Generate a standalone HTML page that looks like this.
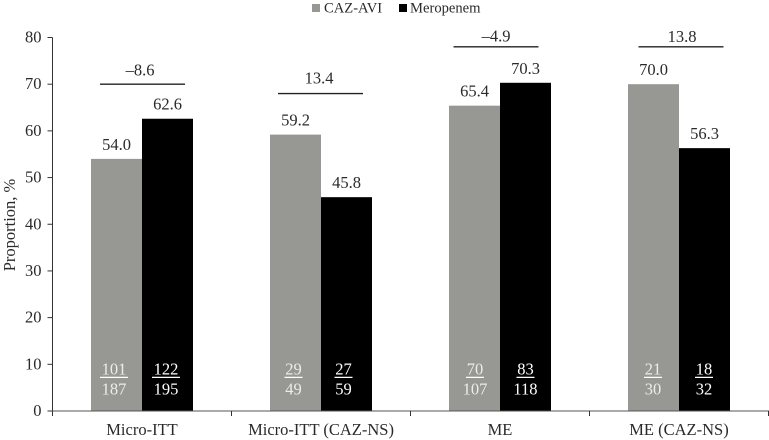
<!DOCTYPE html>
<html lang="en">
<head>
<meta charset="utf-8">
<title>Proportion by analysis population</title>
<style>
html,body{margin:0;padding:0;background:#fff;}
svg{display:block;}
text{font-family:"Liberation Serif",serif;font-size:16.5px;fill:#2a2a2a;}
text.legend-text{font-size:14.6px;}
</style>
</head>
<body>
<svg id="chart" width="769" height="440" viewBox="0 0 769 440" xmlns="http://www.w3.org/2000/svg">
  <g id="legend">
    <rect x="312" y="4" width="8" height="8" fill="#979893"></rect>
    <text class="legend-text" x="324" y="12.5">CAZ-AVI</text>
    <rect x="399" y="4" width="8" height="8" fill="#000"></rect>
    <text class="legend-text" x="410" y="12.5">Meropenem</text>
  </g>
  <text transform="translate(15,225) rotate(-90)" text-anchor="middle">Proportion, %</text>
  <g id="plot"></g>
</svg>
<script>
const categories = ['Micro-ITT', 'Micro-ITT (CAZ-NS)', 'ME', 'ME (CAZ-NS)'];
const cazAviValues = [54.0, 59.2, 65.4, 70.0];
const meropenemValues = [62.6, 45.8, 70.3, 56.3];
const cazAviNumerators = [101, 29, 70, 21];
const cazAviDenominators = [187, 49, 107, 30];
const meropenemNumerators = [122, 27, 83, 18];
const meropenemDenominators = [195, 59, 118, 32];
const differenceLabels = ['\u20138.6', '13.4', '\u20134.9', '13.8'];
const differenceLevels = [70, 68, 78, 78];
const yTicks = [0, 10, 20, 30, 40, 50, 60, 70, 80];

const NS = 'http://www.w3.org/2000/svg';
const plot = document.getElementById('plot');
const x0 = 52.5, x1 = 768.5, y0 = 411, yTop = 37.5, yMax = 80;
const bandWidth = (x1 - x0) / categories.length;
const barWidth = 51;
const yScale = function (v) { return y0 - (v / yMax) * (y0 - yTop); };
const bandCenter = function (i) { return x0 + bandWidth * (i + 0.5); };

function make(tag, attrs, text) {
  const el = document.createElementNS(NS, tag);
  for (const k in attrs) el.setAttribute(k, attrs[k]);
  if (text !== undefined) el.textContent = text;
  plot.appendChild(el);
  return el;
}

function drawBar(i, values, numerators, denominators, side, color, key) {
  const left = bandCenter(i) + (side < 0 ? -barWidth : 0);
  const mid = left + barWidth / 2;
  const top = yScale(values[i]);
  const bar = make('rect', { x: left, y: top, width: barWidth, height: y0 - top, fill: color });
  
  
  const label = make('text', { x: mid, y: top - 9, 'text-anchor': 'middle' }, values[i].toFixed(1));
  
  
  const textColor = side < 0 ? '#ecece8' : '#fff';
  const fracNudge = side < 0 ? [-2.5, -2, 0.5, -0.5][i] : [-1.5, -3, 0, -0.5][i];
  const fx = mid + fracNudge;
  const num = make('text', { x: fx, y: 374.5, 'text-anchor': 'middle', style: 'fill:' + textColor }, numerators[i]);
  
  
  const half = String(numerators[i]).length > 2 ? 14 : 9;
  const rule = make('line', { x1: fx - half, x2: fx + half, y1: 377.4, y2: 377.4, stroke: '#fff', 'stroke-width': 1.2 });
  
  
  const den = make('text', { x: fx, y: 394.5, 'text-anchor': 'middle', style: 'fill:' + textColor }, denominators[i]);
  
  
}

categories.forEach(function (name, i) {
  drawBar(i, cazAviValues, cazAviNumerators, cazAviDenominators, -1, '#979893', 'caz-avi');
  drawBar(i, meropenemValues, meropenemNumerators, meropenemDenominators, 1, '#000', 'meropenem');

  const cx = bandCenter(i);
  const lineNudge = [0.5, -0.5, -4, 2][i];
  const labelNudge = [-2, -2, -4, 3][i];
  const labelGap = [8.5, 10, 5.5, 5][i];
  const ly = yScale(differenceLevels[i]);
  const dl = make('line', { x1: cx + lineNudge - 42.5, x2: cx + lineNudge + 42.5, y1: ly, y2: ly, stroke: '#222', 'stroke-width': 1.4 });
  
  
  const dt = make('text', { x: cx + labelNudge, y: ly - labelGap, 'text-anchor': 'middle' }, differenceLabels[i]);
  
  

  const cat = make('text', { x: cx, y: 435, 'text-anchor': 'middle' }, name);
  
  
});

const yAxis = make('line', { x1: x0, x2: x0, y1: yTop, y2: y0, stroke: '#333', 'stroke-width': 1 });


const xAxis = make('line', { x1: x0 - 5, x2: x1 + 0.5, y1: y0, y2: y0, stroke: '#555', 'stroke-width': 1 });



yTicks.forEach(function (t) {
  const y = yScale(t);
  const tick = make('line', { x1: x0 - 5, x2: x0, y1: y, y2: y, stroke: '#333', 'stroke-width': 1 });
  
  
  const lab = make('text', { x: x0 - 11, y: y + 5, 'text-anchor': 'end' }, t);
  
  
});

for (let i = 0; i <= categories.length; i++) {
  const x = x0 + bandWidth * i;
  const tick = make('line', { x1: x, x2: x, y1: y0, y2: y0 + 5, stroke: '#333', 'stroke-width': 1 });
  
  
}
</script>
</body>
</html>
